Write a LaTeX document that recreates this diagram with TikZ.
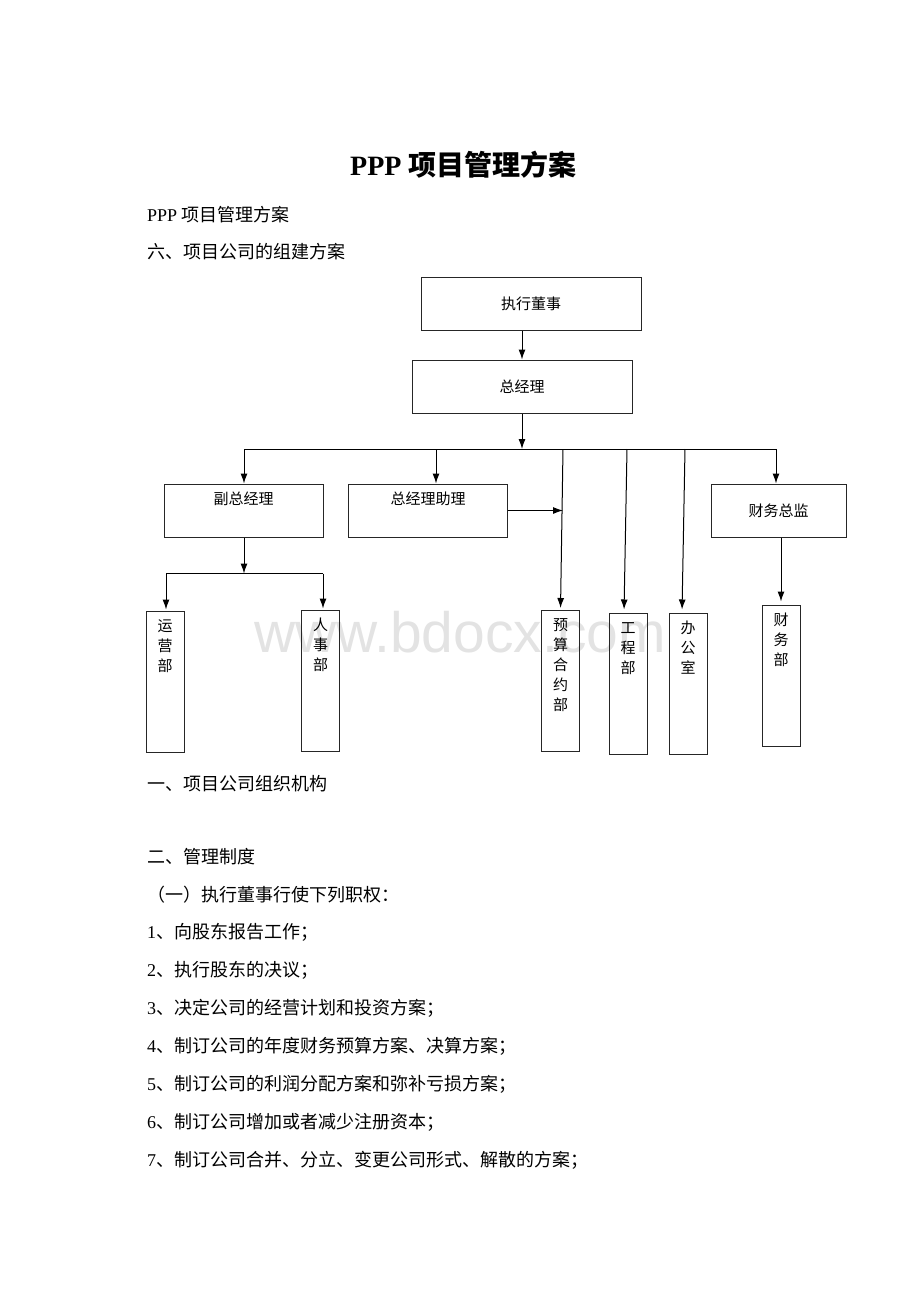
\documentclass[tikz,border=0pt]{standalone}
\usepackage{fontspec}
\setmainfont{Liberation Serif}
\newfontfamily\cjk{Noto Sans CJK SC}
\newfontfamily\wmfont{Liberation Sans}
\usepackage{tikz}
\usetikzlibrary{positioning}
\usetikzlibrary{arrows.meta}
\usetikzlibrary{calc}

\newcommand{\zh}[1]{{\cjk #1}}

\begin{document}
\begin{tikzpicture}[x=1pt,y=-1pt]
\tikzstyle{box}=[draw=black!85, line width=1pt, inner sep=0pt, font=\cjk\fontsize{15}{20}\selectfont]
\tikzstyle{wide}=[box, minimum width=220pt, minimum height=53pt]
\tikzstyle{mid}=[box, minimum width=159pt, minimum height=53pt]
\tikzstyle{tall}=[box, minimum width=38pt, minimum height=141pt]
\tikzstyle{inbox}=[inner sep=0pt, align=center, font=\cjk\fontsize{15}{20}\selectfont]
\tikzstyle{ln}=[line width=1pt]
\tikzstyle{arr}=[ln, -{Latex[length=10pt,width=7pt]}]
\tikzstyle{txt}=[anchor=west, inner sep=0pt, font=\fontsize{18}{18}\selectfont]
\useasboundingbox (0,0) rectangle (920,1302);

% watermark
\node[anchor=base, text=black!11, font=\wmfont\fontsize{57}{57}\selectfont] (wm) at (460,652) {www.bdocx.com};

% page text
\node[txt, font=\bfseries\fontsize{28}{28}\selectfont] (title) at (350,165) {PPP \zh{项目管理方案}};
\node[txt] (sub) at (147,215) {PPP \zh{项目管理方案}};
\node[txt] (six) at (147,252) {\zh{六、项目公司的组建方案}};
\node[txt] (one) at (147,784) {\zh{一、项目公司组织机构}};
\node[txt] (two) at (147,857) {\zh{二、管理制度}};
\node[txt] (duty) at (147,895) {\zh{（一）执行董事行使下列职权：}};
\node[txt] (d1) at (147,932) {1\zh{、向股东报告工作；}};
\node[txt] (d2) at (147,970) {2\zh{、执行股东的决议；}};
\node[txt] (d3) at (147,1008) {3\zh{、决定公司的经营计划和投资方案；}};
\node[txt] (d4) at (147,1046) {4\zh{、制订公司的年度财务预算方案、决算方案；}};
\node[txt] (d5) at (147,1084) {5\zh{、制订公司的利润分配方案和弥补亏损方案；}};
\node[txt] (d6) at (147,1122) {6\zh{、制订公司增加或者减少注册资本；}};
\node[txt] (d7) at (147,1160) {7\zh{、制订公司合并、分立、变更公司形式、解散的方案；}};

% boxes
\node[wide] (zhixing) at (531,303.5) {执行董事};
\node[wide] (zjl) at (522,386.5) {总经理};
\node[mid] (fuzjl) at (243.5,510.5) {};
\node[inbox, below=8.5pt of fuzjl.north] (fuzjlt) {副总经理};
\node[mid] (zhuli) at (428,510.5) {};
\node[inbox, below=8.5pt of zhuli.north] (zhulit) {总经理助理};
\node[box, minimum width=135pt, minimum height=53pt] (cwzj) at (778.5,510.5) {财务总监};

\node[tall] (yunying) at (165,681.5) {};
\node[inbox, below=9pt of yunying.north] {运\\营\\部};
\node[tall] (renshi) at (320.5,680.5) {};
\node[inbox, below=8pt of renshi.north] {人\\事\\部};
\node[tall] (yusuan) at (560.5,681) {};
\node[inbox, below=8pt of yusuan.north] {预\\算\\合\\约\\部};
\node[tall] (gongcheng) at (628,683.5) {};
\node[inbox, below=10pt of gongcheng.north] {工\\程\\部};
\node[tall] (bangong) at (688,683.5) {};
\node[inbox, below=8pt of bangong.north] {办\\公\\室};
\node[tall] (cwb) at (781,675.5) {};
\node[inbox, below=8pt of cwb.north] {财\\务\\部};

% connectors
\coordinate (fork) at (522,449);
\coordinate (busL) at (244,449);
\coordinate (busR) at (776,449);
\coordinate (bZhuli) at (436,449);
\coordinate (bYusuan) at (563,449);
\coordinate (bGong) at (627,449);
\coordinate (bBan) at (685,449);
\draw[arr] (zhixing.south -| zjl) -- (zjl.north);
\draw[arr] (zjl) -- (fork);
\draw[ln] (busL) -- (busR);
\draw[arr] (busL) -- (fuzjl.north -| busL);
\draw[arr] (bZhuli) -- (bZhuli |- zhuli.north);
\draw[arr] (busR) -- (busR |- cwzj.north);
\draw[arr, shorten >=2pt] (bYusuan) -- (yusuan.north);
\draw[arr, shorten >=3pt] (bGong) -- ([xshift=-4pt]gongcheng.north);
\draw[arr, shorten >=3pt] (bBan) -- ([xshift=-6pt]bangong.north);
\draw[arr] (zhuli.east) -- (zhuli.east -| bYusuan);
\draw[arr, shorten >=3pt] (cwzj.south -| cwb) -- (cwb.north);

\coordinate (fork2) at (244,573.5);
\coordinate (subL) at (166,573.5);
\coordinate (subR) at (323,573.5);
\draw[arr] (fuzjl.south -| fork2) -- (fork2);
\draw[ln] (subL) -- (subR);
\draw[arr, shorten >=1pt] (subL) -- (subL |- yunying.north);
\draw[arr, shorten >=1pt] (subR) -- (subR |- renshi.north);
\end{tikzpicture}
\end{document}
